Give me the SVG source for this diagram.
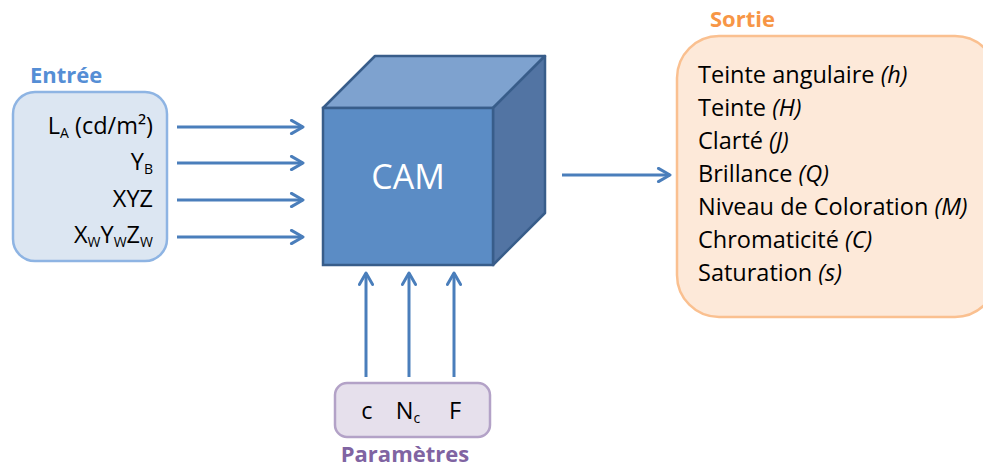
<svg xmlns="http://www.w3.org/2000/svg" width="983" height="468" viewBox="0 0 983 468">
<style>
  .t{font-family:"Open Sans","Liberation Sans",Arial,sans-serif;fill:#000}
  .o{font-size:23.5px}
  .i{font-style:italic}
  .s{font-size:14px}
  .h{font-family:"Open Sans","Liberation Sans",sans-serif;font-weight:bold;font-size:22px}
  .arr{stroke:#4A7EBB;stroke-width:3;fill:none;marker-end:url(#ah)}
</style>
<defs>
  <marker id="ah" viewBox="0 0 10 10" refX="8.5" refY="5" markerWidth="5.5" markerHeight="5.5" orient="auto" markerUnits="strokeWidth">
    <path d="M1.5,1 L8.5,5 L1.5,9" fill="none" stroke="#4A7EBB" stroke-width="1.8" stroke-linecap="round" stroke-linejoin="round"/>
  </marker>
</defs>
<rect width="983" height="468" fill="#fff"/>

<g id="entree">
  <rect x="13" y="92" width="154" height="169" rx="22" fill="#DCE6F2" stroke="#8EB4E3" stroke-width="2.5"/>
  <text x="30" y="83" class="h" style="fill:#558ED5">Entrée</text>
  <text x="153" y="134" class="t o" text-anchor="end">L<tspan class="s" dy="4">A</tspan><tspan dy="-4"> (cd/m²)</tspan></text>
  <text x="153" y="170" class="t o" text-anchor="end">Y<tspan class="s" dy="4">B</tspan></text>
  <text x="153" y="207" class="t o" text-anchor="end">XYZ</text>
  <text x="153" y="243" class="t o" text-anchor="end">X<tspan class="s" dy="4">W</tspan><tspan dy="-4">Y</tspan><tspan class="s" dy="4">W</tspan><tspan dy="-4">Z</tspan><tspan class="s" dy="4">W</tspan></text>
</g>

<g id="cam">
  <polygon points="323,108 375,56 545,56 493,108" fill="#7EA2CF" stroke="#385D8A" stroke-width="2.5" stroke-linejoin="round"/>
  <polygon points="493,108 545,56 545,213 493,265" fill="#5274A3" stroke="#385D8A" stroke-width="2.5" stroke-linejoin="round"/>
  <rect x="323" y="108" width="170" height="157" fill="#5B8CC5" stroke="#385D8A" stroke-width="2.5"/>
  <text x="408" y="189" font-family="'Open Sans','Liberation Sans',Arial,sans-serif" font-size="34" fill="#fff" text-anchor="middle">CAM</text>
</g>

<g id="sortie">
  <rect x="677" y="36" width="320" height="281" rx="42" fill="#FDE9D9" stroke="#FAC090" stroke-width="2.5"/>
  <text x="710" y="27" class="h" style="fill:#F79646">Sortie</text>
  <text x="698" y="83" class="t o">Teinte angulaire <tspan class="i">(h)</tspan></text>
  <text x="698" y="116" class="t o">Teinte <tspan class="i">(H)</tspan></text>
  <text x="698" y="149" class="t o">Clarté <tspan class="i">(J)</tspan></text>
  <text x="698" y="182" class="t o">Brillance <tspan class="i">(Q)</tspan></text>
  <text x="698" y="215" class="t o">Niveau de Coloration <tspan class="i">(M)</tspan></text>
  <text x="698" y="248" class="t o">Chromaticité <tspan class="i">(C)</tspan></text>
  <text x="698" y="281" class="t o">Saturation <tspan class="i">(s)</tspan></text>
</g>

<g id="parametres">
  <rect x="335" y="383" width="155" height="54" rx="12" fill="#E6E0EC" stroke="#B3A2C7" stroke-width="2.5"/>
  <text x="367" y="419" class="t o" text-anchor="middle">c</text>
  <text x="408" y="419" class="t o" text-anchor="middle">N<tspan class="s" dy="4">c</tspan></text>
  <text x="455" y="419" class="t o" text-anchor="middle">F</text>
  <text x="405" y="462" class="h" text-anchor="middle" style="fill:#8064A2">Paramètres</text>
</g>

<g id="connectors">
  <line class="arr" x1="177" y1="127" x2="303" y2="127"/>
  <line class="arr" x1="177" y1="163" x2="303" y2="163"/>
  <line class="arr" x1="177" y1="200" x2="303" y2="200"/>
  <line class="arr" x1="177" y1="237" x2="303" y2="237"/>
  <line class="arr" x1="562" y1="175" x2="670" y2="175"/>
  <line class="arr" x1="366" y1="377" x2="366" y2="273"/>
  <line class="arr" x1="409" y1="377" x2="409" y2="273"/>
  <line class="arr" x1="454" y1="377" x2="454" y2="273"/>
</g>
</svg>
